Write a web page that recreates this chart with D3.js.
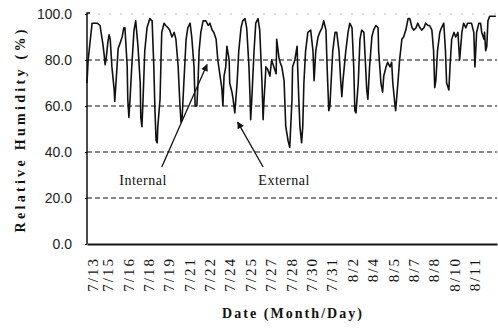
<!DOCTYPE html>
<html>
<head>
<meta charset="utf-8">
<script src="https://cdn.jsdelivr.net/npm/d3@7"></script>
<style>
  body { margin: 0; background: #fff; }
</style>
</head>
<body>
<svg id="chart-svg" width="498" height="329"></svg>
<script>
var hours = [0,2,9,11,18,23,28,30,32,34,37,39,41,44,48,49,53,55,58,62,65,67,71,72,74,76,79,83,86,90,94,95,97,99,102,106,111,115,118,120,122,124,125,129,131,132,136,139,143,146,150,154,157,161,164,166,168,171,175,178,182,185,189,191,194,196,198,201,205,210,214,217,221,224,228,231,235,238,240,242,245,247,251,252,256,258,261,265,268,272,275,279,282,286,288,289,291,295,298,302,305,309,311,312,316,319,323,326,330,334,335,339,341,344,348,351,355,358,362,363,367,371,372,374,376,379,381,383,386,390,395,399,401,404,408,411,415,418,422,424,427,429,431,434,438,441,445,448,450,452,457,461,464,468,471,473,475,479,482,485,489,492,494,496,499,503,506,510,514,515,519,522,524,528,531,535,538,540,544,545,549,552,556,559,563,567,570,574,577,581,584,588,591,595,598,602,605,609,612,614,616,619,623,626,630,633,635,639,641,644,648,651,655,658,662,665,669,672,676,679,683,685,688,692,695,697,701,702,704,706,708,711,716,722];

var humidity = [70,80,96,96,96,95,87,83,78,81,88,91,89,77,67,62,77,85,87,90,94,94,77,63,55,63,77,93,97,86,70,55,51,63,84,94,98,97,77,58,45,44,51,63,83,92,96,95,94,93,90,92,89,77,61,53,55,70,89,94,96,90,77,60,60,70,84,92,97,97,95,96,93,92,89,80,73,68,60,73,77,86,80,70,66,63,57,70,84,94,97,98,94,77,63,54,63,84,96,98,93,70,54,60,77,76,73,80,77,74,89,81,79,77,71,51,45,42,63,77,80,86,77,63,51,44,51,70,84,92,93,84,71,84,90,92,94,97,93,77,58,60,70,84,92,92,84,71,64,71,84,92,96,94,77,58,57,70,89,93,92,77,67,63,77,90,93,95,94,84,70,66,73,77,79,77,79,70,60,58,70,80,89,90,93,98,98,94,93,94,96,94,93,94,96,95,95,93,84,68,71,84,92,94,96,84,70,67,77,89,92,90,92,80,92,96,94,96,96,96,92,77,92,96,96,92,89,92,84,86,97,99,99,99];

var dateLabels = ["7/13","7/15","7/16","7/18","7/19","7/21","7/22","7/24","7/25","7/27","7/28","7/30","7/31","8/2","8/4","8/5","8/7","8/8","8/10","8/11"];
var yTicks = [0, 20, 40, 60, 80, 100];
var gridValues = [20, 40, 60, 80];

var labelNotes = [
  {text: "Internal", x: 99, y: 25.5, tailX: 132, tailY: 33.5, tipX: 212, tipY: 78},
  {text: "External", x: 348, y: 25.5, tailX: 311, tailY: 33.5, tipX: 266, tipY: 53}
];

var svg = d3.select("#chart-svg");
var margin = {left: 87, right: 1, top: 14, bottom: 85};
var width = +svg.attr("width");
var height = +svg.attr("height");

var x = d3.scaleLinear()
    .domain([0, 724])
    .range([margin.left, width - margin.right]);

var y = d3.scaleLinear()
    .domain([0, 100])
    .range([height - margin.bottom, margin.top]);

var defs = svg.append("defs");
defs.append("marker")
    .attr("id", "head")
    .attr("viewBox", "0 0 10 10")
    .attr("refX", 9)
    .attr("refY", 5)
    .attr("markerWidth", 9)
    .attr("markerHeight", 7)
    .attr("markerUnits", "userSpaceOnUse")
    .attr("orient", "auto")
    .append("path")
    .attr("d", "M0,0L10,5L0,10z")
    .attr("fill", "#111");

svg.selectAll(".grid")
    .data(gridValues)
    .enter()
    .append("line")
    .attr("class", "grid")
    .attr("x1", x(0))
    .attr("x2", x(724))
    .attr("y1", d => y(d))
    .attr("y2", d => y(d))
    .attr("stroke", "#111")
    .attr("stroke-width", 1.2)
    .attr("stroke-dasharray", "5,3");

svg.append("line")
    .attr("x1", x(0))
    .attr("x2", x(724))
    .attr("y1", y(100))
    .attr("y2", y(100))
    .attr("stroke", "#bbb")
    .attr("stroke-width", 1)
    .attr("stroke-dasharray", "2,9");

var line = d3.line()
    .x((d, i) => x(hours[i]))
    .y(d => y(d));

svg.append("path")
    .datum(humidity)
    .attr("d", line)
    .attr("fill", "none")
    .attr("stroke", "#111")
    .attr("stroke-width", 1.6)
    .attr("stroke-linejoin", "round");

var yAxis = svg.append("g")
    .attr("transform", "translate(" + x(0) + ",0)")
    .call(d3.axisLeft(y).tickValues(yTicks).tickSize(2).tickFormat(d3.format(".1f")));

yAxis.select(".domain")
    .attr("d", "M3," + (y(100) - 1) + "H0V" + y(0))
    .attr("stroke", "#111")
    .attr("stroke-width", 1.5);

yAxis.selectAll("text")
    .attr("x", -15)
    .attr("font-family", "'Liberation Sans', Arial, sans-serif")
    .attr("font-size", 14)
    .attr("fill", "#222");

var xAxis = svg.append("g")
    .attr("transform", "translate(0," + y(0) + ")")
    .call(d3.axisBottom(x)
        .tickValues(d3.range(dateLabels.length).map(i => i * 36))
        .tickSize(0)
        .tickFormat((d, i) => dateLabels[i]));

xAxis.select(".domain")
    .attr("stroke", "#111")
    .attr("stroke-width", 2);

xAxis.selectAll("text")
    .attr("transform", (d, i) => "translate(" + (i === 0 ? 5 : 0) + ",0) rotate(-90)")
    .attr("text-anchor", "end")
    .attr("x", -13)
    .attr("y", 0)
    .attr("dy", "0.35em")
    .attr("font-family", "'Liberation Serif', 'Times New Roman', serif")
    .attr("font-size", 15)
    .attr("letter-spacing", 2)
    .attr("fill", "#111");

svg.selectAll(".note-arrow")
    .data(labelNotes)
    .enter()
    .append("line")
    .attr("class", "note-arrow")
    .attr("x1", d => x(d.tailX))
    .attr("y1", d => y(d.tailY))
    .attr("x2", d => x(d.tipX))
    .attr("y2", d => y(d.tipY))
    .attr("stroke", "#111")
    .attr("stroke-width", 1.3)
    .attr("marker-end", "url(#head)");

svg.selectAll(".note")
    .data(labelNotes)
    .enter()
    .append("text")
    .attr("class", "note")
    .attr("x", d => x(d.x))
    .attr("y", d => y(d.y))
    .attr("text-anchor", "middle")
    .attr("font-family", "'Liberation Serif', 'Times New Roman', serif")
    .attr("font-size", 14)
    .attr("letter-spacing", 0.5)
    .attr("fill", "#111")
    .text(d => d.text);

svg.append("text")
    .attr("transform", "translate(20," + ((y(0) + y(100)) / 2 + 2) + ") rotate(-90)")
    .attr("text-anchor", "middle")
    .attr("dy", "0.35em")
    .attr("font-family", "'Liberation Serif', 'Times New Roman', serif")
    .attr("font-weight", "bold")
    .attr("font-size", 14)
    .attr("textLength", 203)
    .attr("lengthAdjust", "spacing")
    .attr("fill", "#111")
    .text("Relative Humidity (%)");

svg.append("text")
    .attr("x", 292)
    .attr("y", 318)
    .attr("text-anchor", "middle")
    .attr("font-family", "'Liberation Serif', 'Times New Roman', serif")
    .attr("font-weight", "bold")
    .attr("font-size", 14)
    .attr("textLength", 140)
    .attr("lengthAdjust", "spacing")
    .attr("fill", "#111")
    .text("Date (Month/Day)");
</script>
</body>
</html>
